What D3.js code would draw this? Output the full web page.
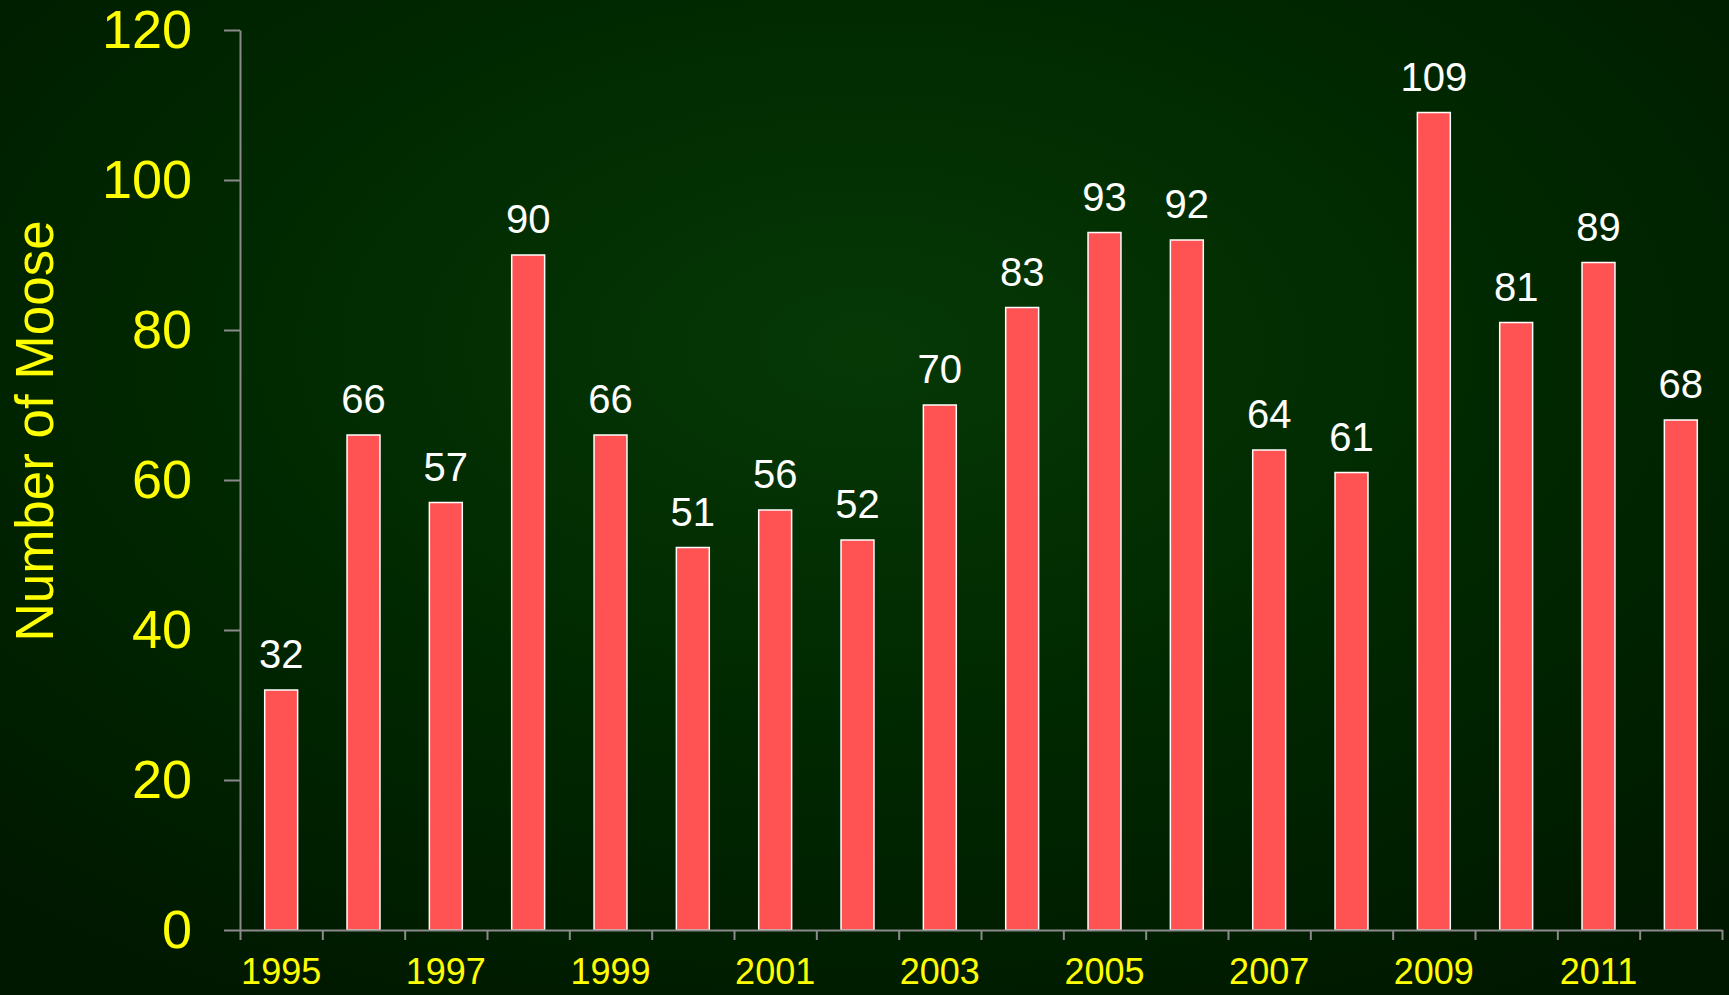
<!DOCTYPE html>
<html>
<head>
<meta charset="utf-8">
<script src="https://cdn.jsdelivr.net/npm/d3@7"></script>
<style>
  html, body { margin: 0; padding: 0; background: #001c00; }
  svg { display: block; font-family: "Liberation Sans", Arial, sans-serif; }
</style>
</head>
<body>
<div id="chart"></div>
<script>
'use strict';

// moose counts per year
var years = d3.range(1995, 2013);
var moose = [32, 66, 57, 90, 66, 51, 56, 52, 70, 83, 93, 92, 64, 61, 109, 81, 89, 68];
var yTicks = [0, 20, 40, 60, 80, 100, 120];
var yearLabels = [1995, 1997, 1999, 2001, 2003, 2005, 2007, 2009, 2011];

var width = 1729, height = 995;
var margin = { top: 30, right: 7, bottom: 65, left: 240 };

var svg = d3.select('#chart')
    .append('svg')
    .attr('width', width)
    .attr('height', height);

var defs = svg.append('defs');
var grad = defs.append('radialGradient')
    .attr('id', 'bg')
    .attr('cx', '50%').attr('cy', '35%').attr('r', '75%');
grad.append('stop').attr('offset', '0%').attr('stop-color', '#063806');
grad.append('stop').attr('offset', '55%').attr('stop-color', '#002700');
grad.append('stop').attr('offset', '100%').attr('stop-color', '#001800');

svg.append('rect')
    .attr('width', width)
    .attr('height', height)
    .attr('fill', 'url(#bg)');

var x = d3.scaleBand()
    .domain(years)
    .range([margin.left, width - margin.right]);

// band edges for the tick marks
var xEdge = d3.scaleLinear()
    .domain([0, years.length])
    .range([margin.left, width - margin.right]);

var y = d3.scaleLinear()
    .domain([0, 120])
    .range([height - margin.bottom, margin.top]);

var barW = x.bandwidth() * 0.4;

// bars
svg.append('g')
    .selectAll('rect')
    .data(moose)
    .enter()
    .append('rect')
    .attr('x', function(d, i) { return x(years[i]) + (x.bandwidth() - barW) / 2; })
    .attr('y', function(d) { return y(d); })
    .attr('width', barW)
    .attr('height', function(d) { return y(0) - y(d); })
    .attr('fill', '#ff5252')
    .attr('stroke', '#ffffff')
    .attr('stroke-width', 1.5);

// value labels
svg.append('g')
    .selectAll('text')
    .data(moose)
    .enter()
    .append('text')
    .attr('x', function(d, i) { return x(years[i]) + x.bandwidth() / 2; })
    .attr('y', function(d) { return y(d) - 22; })
    .attr('text-anchor', 'middle')
    .attr('fill', '#ffffff')
    .style('font-size', '40px')
    .text(function(d) { return d; });

// y axis
var yAxis = svg.append('g')
    .attr('transform', 'translate(' + margin.left + ',0)')
    .call(d3.axisLeft(y).tickValues(yTicks).tickSize(16).tickSizeOuter(0).tickPadding(32));
yAxis.selectAll('path, line').attr('stroke', '#8a8a8a').attr('stroke-width', 2);
yAxis.selectAll('text')
    .attr('fill', '#ffff00')
    .attr('dy', '0.33em')
    .style('font-size', '54px')
    .style('font-family', '"Liberation Sans", Arial, sans-serif');

// x axis (ticks at band edges)
var xAxis = svg.append('g')
    .attr('transform', 'translate(0,' + y(0) + ')')
    .call(d3.axisBottom(xEdge).tickValues(d3.range(years.length + 1)).tickSize(10).tickSizeOuter(0).tickFormat(''));
xAxis.selectAll('path, line').attr('stroke', '#8a8a8a').attr('stroke-width', 2);

// year labels
svg.append('g')
    .selectAll('text')
    .data(yearLabels)
    .enter()
    .append('text')
    .attr('x', function(d) { return x(d) + x.bandwidth() / 2; })
    .attr('y', 984)
    .attr('text-anchor', 'middle')
    .attr('fill', '#ffff00')
    .style('font-size', '36px')
    .text(function(d) { return d; });

// y axis title
svg.append('text')
    .attr('transform', 'translate(53,431) rotate(-90)')
    .attr('text-anchor', 'middle')
    .attr('fill', '#ffff00')
    .style('font-size', '53px')
    .text('Number of Moose');
</script>
</body>
</html>
